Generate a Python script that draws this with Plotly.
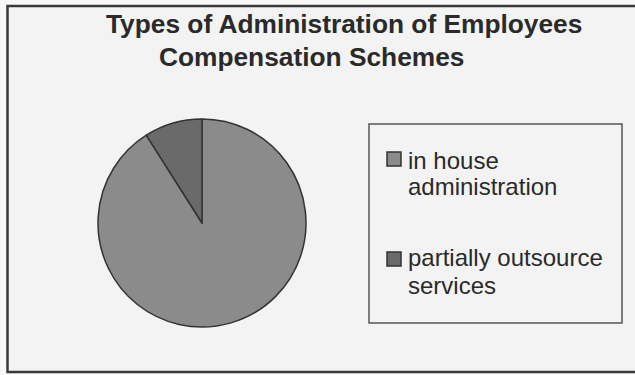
import plotly.graph_objects as go

# ---- data ----
labels = ["in house administration", "partially outsource services"]
legend_lines = [["in house", "administration"], ["partially outsource", "services"]]
values = [91, 9]
title_lines = ["Types of Administration of Employees", "Compensation Schemes"]

# ---- styles ----
W, H = 635, 375
colors = ["#8b8b8b", "#6a6a6a"]
FONT = "Arial, Liberation Sans, sans-serif"


def px(x):
    return x / W


def py(y):
    return 1 - y / H


fig = go.Figure()
fig.add_trace(go.Pie(
    labels=labels,
    values=values,
    sort=False,
    direction="clockwise",
    rotation=0,
    marker=dict(colors=colors, line=dict(color="#333333", width=1.5)),
    textinfo="none",
    hoverinfo="label+percent",
    showlegend=False,
    domain=dict(x=[px(98), px(306)], y=[py(327), py(119)]),
))

shapes = [
    # outer chart border (right side cut off)
    dict(type="rect", xref="paper", yref="paper", x0=px(7.5), x1=px(645), y0=py(372), y1=py(6),
         line=dict(color="#3a3a3a", width=2.5), fillcolor="#f3f3f3", layer="below"),
    # legend box
    dict(type="rect", xref="paper", yref="paper", x0=px(369), x1=px(622), y0=py(323), y1=py(124),
         line=dict(color="#555555", width=1.5), fillcolor="rgba(0,0,0,0)", layer="below"),
]

annotations = []
# title
title_pos = [(104, 24), (157, 57)]
for txt, (x, y) in zip(title_lines, title_pos):
    annotations.append(dict(text="<b>" + txt + "</b>", x=px(x), y=py(y), xref="paper", yref="paper",
                            xanchor="left", yanchor="middle", showarrow=False,
                            font=dict(family=FONT, size=26.3, color="#2a2a2a")))

# custom legend
sq_tops = [152, 252]
line_centers = [[160, 187], [257, 285]]
for i in range(len(labels)):
    t = sq_tops[i]
    shapes.append(dict(type="rect", xref="paper", yref="paper", x0=px(387), x1=px(401),
                       y0=py(t + 14), y1=py(t), fillcolor=colors[i],
                       line=dict(color="#333333", width=1.5)))
    for txt, yc in zip(legend_lines[i], line_centers[i]):
        annotations.append(dict(text=txt, x=px(406), y=py(yc), xref="paper", yref="paper",
                                xanchor="left", yanchor="middle", showarrow=False,
                                font=dict(family=FONT, size=24, color="#2a2a2a")))

fig.update_layout(
    width=W, height=H,
    margin=dict(l=0, r=0, t=0, b=0),
    paper_bgcolor="#f8f8f8",
    plot_bgcolor="#f8f8f8",
    shapes=shapes,
    annotations=annotations,
    showlegend=False,
)

fig.write_html("out.html")
